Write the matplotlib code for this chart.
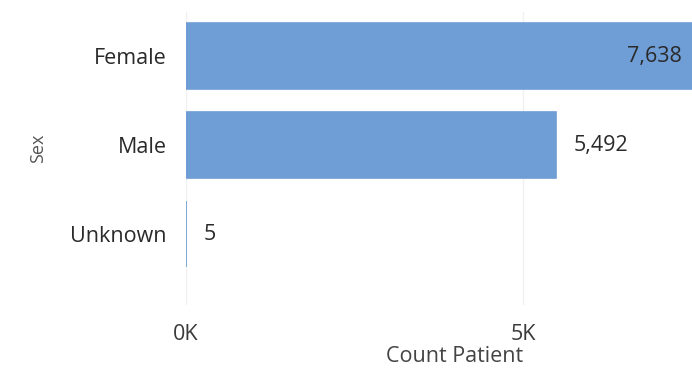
import matplotlib.pyplot as plt
from matplotlib.ticker import FuncFormatter

categories = ['Female', 'Male', 'Unknown']
counts = [7638, 5492, 5]
xticks = [0, 5000]

plt.rcParams['font.family'] = ['Open Sans', 'DejaVu Sans']

fig = plt.figure(figsize=(6.92, 3.72), dpi=100)
W, H = 692, 372
# axes run a bit past the right edge, as in the cropped screenshot
left, right, top, bottom = 186, 724, 11.5, 305
ax = fig.add_axes([left / W, 1 - bottom / H, (right - left) / W, (bottom - top) / H])

bar_color = '#6f9dd6'
fs = 15.5
ypos = list(range(len(categories)))
ax.barh(ypos, counts, height=0.74, color=bar_color, edgecolor=bar_color,
        linewidth=1.2, zorder=2)
ax.set_ylim(2 + (bottom - 234) / 89, -0.5)
ax.set_xlim(0, 7980)

for y, v in zip(ypos, counts):
    txt = '{:,}'.format(v)
    if v > 7000:
        ax.text(v - 280, y, txt, ha='right', va='center', fontsize=fs, color='#2a2a2a')
    else:
        ax.text(v + 260, y, txt, ha='left', va='center', fontsize=fs, color='#2a2a2a')

ax.set_yticks(ypos)
ax.set_yticklabels(categories, fontsize=fs, color='#2a2a2a')
ax.set_xticks(xticks)
ax.xaxis.set_major_formatter(FuncFormatter(lambda x, p: '{:d}K'.format(int(x / 1000))))
ax.tick_params(axis='x', labelsize=fs, labelcolor='#3a3a3a', length=0, pad=14)
ax.tick_params(axis='y', length=0, pad=14)
ax.xaxis.grid(True, color='#f0f0f0', linewidth=1, zorder=0)
for s in ax.spines.values():
    s.set_visible(False)

fig.text(455 / W, 1 - 357 / H, 'Count Patient', ha='center', va='center',
         fontsize=fs, color='#444444')
fig.text(38 / W, 1 - 148 / H, 'Sex', rotation=90, ha='center', va='center',
         fontsize=13, color='#555555')

plt.savefig('out.png', dpi=100)
